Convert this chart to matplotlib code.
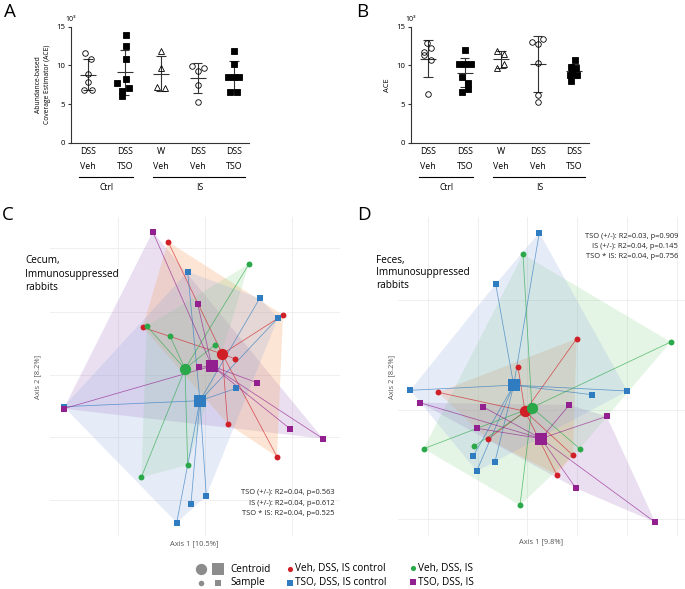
import numpy as np
import matplotlib
matplotlib.use('Agg')
import matplotlib.pyplot as plt
from matplotlib.patches import Polygon

plt.rcParams['font.family'] = ['Open Sans', 'DejaVu Sans']

# ---------------- Panels A / B : ACE richness (x10^3) ----------------
cond_top = ['DSS', 'DSS', 'W', 'DSS', 'DSS']
cond_bot = ['Veh', 'TSO', 'Veh', 'Veh', 'TSO']
grp_markers = ['o', 's', '^', 'o', 's']
grp_filled = [False, True, False, False, True]

ace_cecum = [
    [11.55, 10.82, 8.88, 7.89, 6.81, 6.81],
    [13.88, 12.46, 10.78, 8.23, 7.67, 7.07, 6.72, 6.08],
    [11.9, 9.61, 7.15, 7.07],
    [9.96, 9.61, 9.27, 7.46, 5.3],
    [11.81, 10.21, 8.45, 8.45, 8.45, 6.59, 6.59],
]
jit_cecum = [
    [-0.1, 0.07, 0.0, 0.0, -0.12, 0.1],
    [0.03, 0.03, 0.03, 0.03, -0.2, 0.12, -0.06, -0.06],
    [0.0, 0.0, -0.11, 0.11],
    [-0.16, 0.16, 0.0, 0.0, 0.0],
    [0.0, 0.0, -0.16, 0.0, 0.14, -0.12, 0.08],
]
ace_feces = [
    [12.84, 12.28, 11.77, 11.34, 10.69, 6.29],
    [11.94, 10.17, 10.17, 10.17, 8.53, 7.76, 6.59, 6.9],
    [11.9, 11.47, 10.17, 9.61],
    [13.02, 12.8, 13.45, 10.34, 6.16, 5.21],
    [10.69, 9.83, 9.61, 9.05, 8.75, 8.75, 7.97],
]
jit_feces = [
    [-0.03, 0.07, -0.11, -0.11, 0.07, 0.0],
    [0.0, -0.16, 0.0, 0.16, -0.08, 0.09, -0.08, 0.09],
    [-0.11, 0.07, 0.07, -0.11],
    [-0.15, 0.0, 0.15, 0.0, 0.0, 0.0],
    [0.02, -0.09, 0.06, -0.05, -0.12, 0.08, -0.09],
]
yticks_ace = [0, 5, 10, 15]

# ---------------- Panels C / D : PCoA scores (as read, y downwards) ----------------
C_veh_ctrl = [(168, 241.7), (283, 315), (142.7, 327.3), (235.3, 359), (227.7, 424), (277, 456.7)]
C_tso_ctrl = [(187.7, 271.7), (259.7, 298.3), (278, 318), (236.3, 388.3), (63.7, 406.7),
              (206.3, 496), (191, 503.7), (176.7, 522.7)]
C_veh_is = [(249, 264), (146.7, 326), (170, 336), (215.3, 344.7), (187.7, 465), (141.3, 477.3)]
C_tso_is = [(152.7, 231.7), (197.7, 304), (198.7, 367.3), (257, 382.7), (290.3, 429),
            (323, 438.7), (63.7, 408.7)]
C_grid_x = [118, 205, 292]
C_grid_y = [248, 312, 375, 437, 500]

D_veh_ctrl = [(576.7, 338.7), (518, 367), (438, 392.3), (487.7, 439.3), (573, 455.3), (556.7, 474.7)]
D_tso_ctrl = [(539.3, 232.7), (495.7, 284), (410.3, 390.3), (592, 394.7), (627.3, 391),
              (473.3, 455.7), (495, 461.7), (476.7, 471)]
D_veh_is = [(523, 254.3), (670.7, 342), (423.7, 448.7), (474, 446.3), (579.7, 448.7), (520, 505.3)]
D_tso_is = [(420, 402.7), (483.3, 407), (569.3, 405), (606.7, 416.3), (476.7, 428.3),
            (576, 488.3), (655.3, 522.3)]
D_grid_x = [428.3, 478.3, 527.3, 577.3, 626.7, 676.7]
D_grid_y = [300, 410, 519]

grp_names = ['Veh, DSS, IS control', 'TSO, DSS, IS control', 'Veh, DSS, IS', 'TSO, DSS, IS']
grp_colors = ['#d01f26', '#2f7cc1', '#2aa84a', '#93208f']
hull_colors = ['#f4a261', '#8fa8e0', '#7fce7f', '#a070c0']
hull_alpha = [0.27, 0.22, 0.2, 0.22]
grp_shapes = ['o', 's', 'o', 's']

stats_C = ['TSO (+/-): R2=0.04, p=0.563', 'IS (+/-): R2=0.04, p=0.612', 'TSO * IS: R2=0.04, p=0.525']
stats_D = ['TSO (+/-): R2=0.03, p=0.909', 'IS (+/-): R2=0.04, p=0.145', 'TSO * IS: R2=0.04, p=0.756']

W, H = 685, 589
fig = plt.figure(figsize=(W / 100, H / 100), dpi=100)


def fpos(x0, y0, x1, y1):
    return [x0 / W, (H - y1) / H, (x1 - x0) / W, (y1 - y0) / H]


def dotplot(ax, data, jit, ylabel, ylfs):
    for i, (vals, offs) in enumerate(zip(data, jit)):
        vals = np.array(vals, dtype=float)
        xs = i + np.array(offs)
        fc = 'black' if grp_filled[i] else 'none'
        ms = {'o': 4.0, 's': 4.2, '^': 4.3}[grp_markers[i]]
        ax.plot(xs, vals, linestyle='none', marker=grp_markers[i], ms=ms, mfc=fc,
                mec='black', mew=0.6, zorder=3)
        m = vals.mean()
        sd = vals.std(ddof=1)
        ax.hlines(m, i - 0.22, i + 0.22, color='#333333', lw=0.8, zorder=2)
        ax.vlines(i, m - sd, m + sd, color='#333333', lw=0.8, zorder=2)
        ax.hlines([m - sd, m + sd], i - 0.13, i + 0.13, color='#333333', lw=0.8, zorder=2)
    ax.set_xlim(-0.47, 4.4)
    ax.set_ylim(0, 15)
    ax.set_yticks(yticks_ace)
    ax.set_yticklabels([str(t) for t in yticks_ace], fontsize=5.6)
    ax.set_xticks([])
    for s in ['top', 'right']:
        ax.spines[s].set_visible(False)
    for s in ['left', 'bottom']:
        ax.spines[s].set_linewidth(0.8)
        ax.spines[s].set_color('#333333')
    ax.tick_params(axis='y', length=2.5, width=0.8, pad=1.5, color='#333333')
    ax.set_ylabel(ylabel, fontsize=ylfs, labelpad=4, linespacing=1.35)
    ax.text(-0.03, 1.06, '10³', transform=ax.transAxes, fontsize=5.0, ha='left', va='center')
    tr = ax.get_xaxis_transform()
    for i in range(5):
        ax.text(i, -0.08, cond_top[i], transform=tr, ha='center', va='center', fontsize=6.4)
        ax.text(i, -0.209, cond_bot[i], transform=tr, ha='center', va='center', fontsize=6.4)
    ax.plot([-0.25, 1.23], [-0.296, -0.296], transform=tr, clip_on=False, color='black', lw=0.8)
    ax.plot([1.78, 4.3], [-0.296, -0.296], transform=tr, clip_on=False, color='black', lw=0.8)
    ax.text(0.5, -0.39, 'Ctrl', transform=tr, ha='center', va='center', fontsize=6.2)
    ax.text(3.05, -0.39, 'IS', transform=tr, ha='center', va='center', fontsize=6.2)


axA = fig.add_axes(fpos(71, 26.7, 71 + 177.8, 142.7))
dotplot(axA, ace_cecum, jit_cecum, 'Abundance-based\nCoverage Estimator (ACE)', 4.9)
axB = fig.add_axes(fpos(411, 26.7, 411 + 177.8, 142.7))
dotplot(axB, ace_feces, jit_feces, 'ACE', 5.4)


def convex_hull(pts):
    pts = sorted(set(pts))
    if len(pts) <= 2:
        return pts

    def cross(o, a, b):
        return (a[0] - o[0]) * (b[1] - o[1]) - (a[1] - o[1]) * (b[0] - o[0])
    lower, upper = [], []
    for p in pts:
        while len(lower) >= 2 and cross(lower[-2], lower[-1], p) <= 0:
            lower.pop()
        lower.append(p)
    for p in reversed(pts):
        while len(upper) >= 2 and cross(upper[-2], upper[-1], p) <= 0:
            upper.pop()
        upper.append(p)
    return lower[:-1] + upper[:-1]


def pcoa(ax, groups, gx, gy, xlim, ylim):
    ax.set_xlim(*xlim)
    ax.set_ylim(*ylim)
    for s in ax.spines.values():
        s.set_visible(False)
    ax.set_xticks(gx)
    ax.set_yticks(gy)
    ax.set_xticklabels([])
    ax.set_yticklabels([])
    ax.tick_params(length=0)
    ax.grid(True, color='#ececec', lw=0.6)
    ax.set_axisbelow(True)
    hull_order = [3, 0, 2, 1]
    for k in hull_order:
        hull = convex_hull(groups[k])
        ax.add_patch(Polygon(hull, closed=True, facecolor=hull_colors[k], alpha=hull_alpha[k],
                             edgecolor='none', zorder=1))
    cents = []
    for k, g in enumerate(groups):
        arr = np.array(g)
        c = arr.mean(axis=0)
        cents.append(c)
        for p in arr:
            ax.plot([p[0], c[0]], [p[1], c[1]], color=grp_colors[k], lw=0.55, alpha=0.7, zorder=2)
    for k, g in enumerate(groups):
        arr = np.array(g)
        ax.scatter(arr[:, 0], arr[:, 1], s=18, marker=grp_shapes[k], color=grp_colors[k],
                   linewidths=0, zorder=4)
    for k in [3, 0, 2, 1]:
        c = cents[k]
        ax.scatter([c[0]], [c[1]], s=66, marker=grp_shapes[k], color=grp_colors[k],
                   linewidths=0, zorder=5)


axC = fig.add_axes(fpos(50, 217, 340, 536))
pcoa(axC, [C_veh_ctrl, C_tso_ctrl, C_veh_is, C_tso_is], C_grid_x, C_grid_y, (50, 340), (536, 217))
axD = fig.add_axes(fpos(398, 217, 685, 536))
pcoa(axD, [D_veh_ctrl, D_tso_ctrl, D_veh_is, D_tso_is], D_grid_x, D_grid_y, (398, 685), (536, 217))

# ---------------- overlay for annotations and legend ----------------
ov = fig.add_axes([0, 0, 1, 1])
ov.set_xlim(0, W)
ov.set_ylim(H, 0)
ov.axis('off')

for letter, (x, y) in zip('ABCD', [(10, 12), (362, 12), (8, 215), (364, 215)]):
    ov.text(x, y, letter, fontsize=13.5, ha='center', va='center')

ov.text(25, 274, 'Cecum,\nImmunosuppressed\nrabbits', fontsize=7.2, ha='left', va='center',
        linespacing=1.25)
ov.text(376, 273, 'Feces,\nImmunosuppressed\nrabbits', fontsize=7.2, ha='left', va='center',
        linespacing=1.25)

for i, s in enumerate(stats_C):
    ov.text(335, 493 + 10.3 * i, s, fontsize=5.4, ha='right', va='center', color='#222222')
for i, s in enumerate(stats_D):
    ov.text(678, 236 + 10 * i, s, fontsize=5.4, ha='right', va='center', color='#222222')

ov.text(194, 544, 'Axis 1 [10.5%]', fontsize=5.4, ha='center', va='center', color='#555555')
ov.text(38, 377, 'Axis 2 [8.2%]', fontsize=5.4, ha='center', va='center', color='#555555', rotation=90)
ov.text(541, 542, 'Axis 1 [9.8%]', fontsize=5.4, ha='center', va='center', color='#555555')
ov.text(392, 377, 'Axis 2 [8.2%]', fontsize=5.4, ha='center', va='center', color='#555555', rotation=90)

# legend
ov.scatter([200.7], [569], s=66, marker='o', color='#8c8c8c', linewidths=0)
ov.scatter([218], [569], s=66, marker='s', color='#8c8c8c', linewidths=0)
ov.scatter([200.7], [582.7], s=16, marker='o', color='#8c8c8c', linewidths=0)
ov.scatter([218], [582.7], s=16, marker='s', color='#8c8c8c', linewidths=0)
ov.text(230, 569, 'Centroid', fontsize=7.2, ha='left', va='center')
ov.text(230, 583, 'Sample', fontsize=7.2, ha='left', va='center')
leg_pos = [(290, 569), (290, 583), (412.7, 568), (412.7, 582)]
for k, (x, y) in enumerate(leg_pos):
    ov.scatter([x], [y], s=14, marker=grp_shapes[k], color=grp_colors[k], linewidths=0)
    ov.text(x + 5.5, y, grp_names[k], fontsize=7.2, ha='left', va='center')

fig.savefig('out.png', dpi=100)
